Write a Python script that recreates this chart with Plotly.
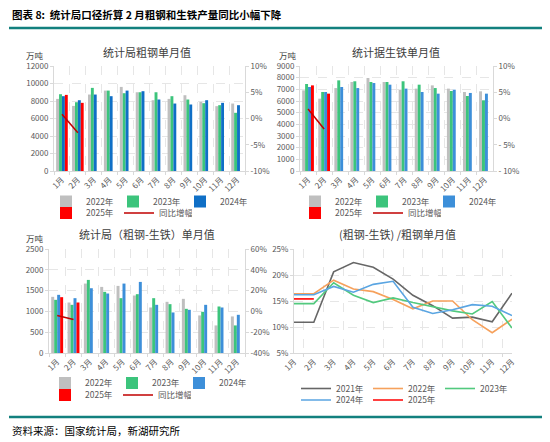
import plotly.graph_objects as go

# 数据（单位：万吨 / 比例）
months = ['1月', '2月', '3月', '4月', '5月', '6月', '7月', '8月', '9月', '10月', '11月', '12月']

steel_2022 = [8240, 7440, 8740, 9190, 9610, 9000, 8090, 8240, 8660, 7900, 7410, 7710]
steel_2023 = [8775, 7860, 9500, 9190, 8890, 9000, 9000, 8550, 8170, 7750, 7520, 6650]
steel_2024 = [8550, 8090, 8740, 8550, 9190, 9120, 8170, 7710, 7600, 8090, 7790, 7520]
steel_2025 = [8700, 7790, None, None, None, None, None, None, None, None, None, None]
steel_yoy = [0.008, -0.027]

iron_2022 = [6910, 6200, 7110, 7630, 7970, 7630, 6970, 7060, 7340, 7060, 6770, 6830]
iron_2023 = [7460, 6770, 7770, 7690, 7630, 7630, 7690, 7400, 7110, 6860, 6430, 6060]
iron_2024 = [7200, 6770, 7200, 7110, 7540, 7400, 7060, 6770, 6630, 6970, 6690, 6630]
iron_2025 = [7340, 6630, None, None, None, None, None, None, None, None, None, None]
iron_yoy = [0.018, -0.020]

diff_2022 = [1350, 1214, 1669, 1589, 1613, 1382, 1094, 1230, 1302, 903, 663, 879]
diff_2023 = [1278, 1158, 1757, 1470, 1318, 1414, 1318, 1174, 1062, 990, 1118, 663]
diff_2024 = [1398, 1318, 1557, 1430, 1669, 1709, 1158, 974, 1038, 1158, 1094, 918]
diff_2025 = [1342, 1214, None, None, None, None, None, None, None, None, None, None]
diff_yoy = [-0.039, -0.078]

ratio_2021 = [0.109, 0.109, 0.206, 0.224, 0.215, 0.192, 0.161, 0.141, 0.117, 0.119, 0.110, 0.165]
ratio_2022 = [0.164, 0.164, 0.190, 0.173, 0.168, 0.153, 0.135, 0.150, 0.150, 0.114, 0.089, 0.115]
ratio_2023 = [0.145, 0.145, 0.185, 0.161, 0.147, 0.156, 0.147, 0.139, 0.131, 0.125, 0.149, 0.098]
ratio_2024 = [0.162, 0.162, 0.178, 0.167, 0.182, 0.188, 0.138, 0.126, 0.133, 0.143, 0.140, 0.122]
ratio_2025 = [0.154, 0.154]

pct_left_ticks = ['10%', '5%', '0%', '-5%', '-10%']
pct_left_ticks2 = ['10%', '5%', '0%', '- 5%', '- 10%']
pct_diff_ticks = ['60%', '40%', '20%', '0%', '-20%', '-40%']
ratio_ticks = ['25%', '20%', '15%', '10%', '5%']

GRAY = '#BFBFBF'
GREEN = '#3CC47C'
BLUE1 = '#0F6FC6'
BLUE2 = '#3D8FD9'
RED = '#FF0000'
DARKRED = '#C00000'
FONT = 'Noto Sans CJK SC, Liberation Sans, sans-serif'
TXT = '#595959'

# 页面 body 默认有 8px 边距，图按 542x434 画，坐标按截图像素换算
W, H, OFF = 542, 434, 8


def px(x):
    return (x - OFF) / W


def py(y):
    return 1 - (y - OFF) / H


fig = go.Figure()


def add_bar_panel(xa, ya, ya2, vals, blue, yoy, lg1, lg2):
    names = ['2022年', '2023年', '2024年', '2025年']
    colors = [GRAY, GREEN, blue, RED]
    for i, (nm, v, c) in enumerate(zip(names, vals, colors)):
        fig.add_trace(go.Bar(x=months, y=v, name=nm, marker_color=c, marker_line_width=0,
                             xaxis=xa, yaxis=ya, legend=lg1 if i < 3 else lg2))
    fig.add_trace(go.Scatter(x=months[:2], y=yoy, name='同比增幅', mode='lines',
                             line=dict(color=DARKRED, width=1.5), xaxis=xa, yaxis=ya2, legend=lg2))


add_bar_panel('x', 'y', 'y2', [steel_2022, steel_2023, steel_2024, steel_2025], BLUE1, steel_yoy, 'legend', 'legend2')
add_bar_panel('x2', 'y3', 'y4', [iron_2022, iron_2023, iron_2024, iron_2025], BLUE2, iron_yoy, 'legend3', 'legend4')
add_bar_panel('x3', 'y5', 'y6', [diff_2022, diff_2023, diff_2024, diff_2025], BLUE2, diff_yoy, 'legend5', 'legend6')

ratio_series = [('2021年', ratio_2021, '#666666', 'legend7'), ('2022年', ratio_2022, '#F6A15C', 'legend7'),
                ('2023年', ratio_2023, '#52C97E', 'legend7'), ('2024年', ratio_2024, '#5AA5E2', 'legend8'),
                ('2025年', ratio_2025, RED, 'legend8')]
for nm, v, c, lg in ratio_series:
    fig.add_trace(go.Scatter(x=months[:len(v)], y=v, name=nm, mode='lines',
                             line=dict(color=c, width=1.6), xaxis='x4', yaxis='y7', legend=lg))

xcommon = dict(type='category', categoryorder='array', categoryarray=months, tickangle=-45,
               tickson='boundaries', ticks='outside', ticklen=3, tickcolor='#D9D9D9',
               showline=True, linecolor='#D9D9D9', showgrid=True, gridcolor='#E6E6E6',
               griddash='dash', tickfont=dict(size=8, color=TXT, family=FONT))
ycommon = dict(ticks='outside', ticklen=3, tickcolor='#D9D9D9', showline=True, linecolor='#D9D9D9',
               showgrid=True, gridcolor='#E6E6E6', griddash='dash', zeroline=False,
               tickformat='d', tickfont=dict(size=8, color=TXT, family=FONT))
y2common = dict(side='right', ticks='outside', ticklen=3, tickcolor='#D9D9D9', showline=True,
                linecolor='#D9D9D9', showgrid=False, zeroline=False,
                tickfont=dict(size=8, color=TXT, family=FONT))

d1x = [px(54), px(245)]
d2x = [px(300), px(493)]
d3x = [px(49), px(245)]
d4x = [px(294), px(512)]
top_y = [py(171), py(66)]
bot_y = [py(353), py(249)]

fig.update_layout(
    xaxis=dict(xcommon, domain=d1x, anchor='y'),
    yaxis=dict(ycommon, domain=top_y, anchor='x', range=[0, 12000], dtick=2000),
    yaxis2=dict(y2common, overlaying='y', anchor='x', range=[-0.10, 0.10],
                tickvals=[0.10, 0.05, 0, -0.05, -0.10], ticktext=pct_left_ticks),
    xaxis2=dict(xcommon, domain=d2x, anchor='y3'),
    yaxis3=dict(ycommon, domain=top_y, anchor='x2', range=[0, 9000], dtick=1000),
    yaxis4=dict(y2common, overlaying='y3', anchor='x2', range=[-0.10, 0.10],
                tickvals=[0.10, 0.05, 0, -0.05, -0.10], ticktext=pct_left_ticks2),
    xaxis3=dict(xcommon, domain=d3x, anchor='y5'),
    yaxis5=dict(ycommon, domain=bot_y, anchor='x3', range=[0, 2500], dtick=500),
    yaxis6=dict(y2common, overlaying='y5', anchor='x3', range=[-0.40, 0.60],
                tickvals=[0.6, 0.4, 0.2, 0, -0.2, -0.4], ticktext=pct_diff_ticks),
    xaxis4=dict(xcommon, domain=d4x, anchor='y7'),
    yaxis7=dict(ycommon, domain=bot_y, anchor='x4', range=[0.05, 0.25],
                tickvals=[0.25, 0.20, 0.15, 0.10, 0.05], ticktext=ratio_ticks),
)

leg = dict(orientation='h', xanchor='left', yanchor='middle', bgcolor='rgba(0,0,0,0)',
           font=dict(size=8.5, color=TXT, family=FONT), entrywidth=22, itemwidth=30,
           tracegroupgap=0, itemclick=False)
leg_ln = dict(leg, entrywidth=27)
fig.update_layout(
    legend=dict(leg, x=px(46), y=py(201.5)),
    legend2=dict(leg, x=px(46), y=py(213), entrywidth=28),
    legend3=dict(leg, x=px(295), y=py(201.5)),
    legend4=dict(leg, x=px(295), y=py(213), entrywidth=28),
    legend5=dict(leg, x=px(45), y=py(383)),
    legend6=dict(leg, x=px(45), y=py(395), entrywidth=28),
    legend7=dict(leg_ln, x=px(296), y=py(388.5)),
    legend8=dict(leg_ln, x=px(296), y=py(400)),
)

titles = [('统计局粗钢单月值', 147, 52), ('统计据生铁单月值', 396, 52),
          ('统计局（粗钢-生铁）单月值', 147, 234), ('(粗钢-生铁) /粗钢单月值', 397, 234)]
ann = []
for t, x, y in titles:
    ann.append(dict(text=t, x=px(x), y=py(y), xref='paper', yref='paper', showarrow=False,
                    xanchor='center', yanchor='middle',
                    font=dict(size=11, color='#404040', family=FONT)))
for x, y in [(35, 55), (288, 55), (35, 238)]:
    ann.append(dict(text='万吨', x=px(x), y=py(y), xref='paper', yref='paper', showarrow=False,
                    xanchor='center', yanchor='middle',
                    font=dict(size=8.5, color='#404040', family=FONT)))
ann.append(dict(text='<b>图表 8:  统计局口径折算 2 月粗钢和生铁产量同比小幅下降</b>', x=px(10), y=py(14.5),
                xref='paper', yref='paper', xanchor='left', yanchor='middle', showarrow=False,
                font=dict(size=10.5, color='#000000', family=FONT)))
ann.append(dict(text='资料来源：国家统计局，新湖研究所', x=px(10), y=py(430.5), xref='paper', yref='paper',
                xanchor='left', yanchor='middle', showarrow=False,
                font=dict(size=10.5, color='#000000', family=FONT)))

shapes = [
    dict(type='line', xref='paper', yref='paper', x0=px(9), x1=px(546), y0=py(28), y1=py(28),
         line=dict(color='#12807E', width=2.5)),
    dict(type='line', xref='paper', yref='paper', x0=px(9), x1=px(546), y0=py(417), y1=py(417),
         line=dict(color='#12807E', width=2.5)),
]

fig.update_layout(width=W, height=H, margin=dict(l=0, r=0, t=0, b=0, autoexpand=False),
                  paper_bgcolor='white', plot_bgcolor='white', barmode='group', bargap=0.27,
                  bargroupgap=0, annotations=ann, shapes=shapes, font=dict(family=FONT))

fig.write_html("out.html")
